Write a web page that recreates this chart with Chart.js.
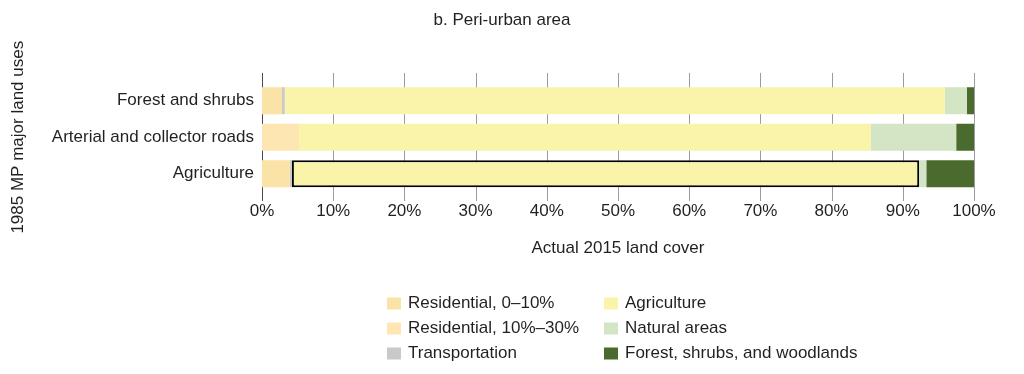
<!DOCTYPE html>
<html>
<head>
<meta charset="utf-8">
<script src="https://cdn.jsdelivr.net/npm/chart.js@4/dist/chart.umd.min.js"></script>
<style>
  html, body { margin: 0; padding: 0; background: #ffffff; }
  #wrap { width: 1024px; height: 374px; position: relative; }
</style>
</head>
<body>
<div id="wrap"><canvas id="c" width="1024" height="374"></canvas></div>
<script>
// ---- data ----
const chartTitle = 'b. Peri-urban area';
const categories = ['Forest and shrubs', 'Arterial and collector roads', 'Agriculture'];
const seriesNames = ['Residential, 0–10%', 'Residential, 10%–30%', 'Transportation', 'Agriculture', 'Natural areas', 'Forest, shrubs, and woodlands'];
const residential0to10 = [2.8, 0, 3.9];
const residential10to30 = [0, 5.2, 0];
const transportation = [0.4, 0, 0.3];
const agriculture = [92.7, 80.3, 88.1];
const naturalAreas = [3.1, 12.0, 1.0];
const forestWoodlands = [1.0, 2.5, 6.7];
const tickLabels = ['0%', '10%', '20%', '30%', '40%', '50%', '60%', '70%', '80%', '90%', '100%'];
const xAxisTitle = 'Actual 2015 land cover';
const yAxisTitle = '1985 MP major land uses';

// ---- styles ----
const colors = ['#fbe3a7', '#fde6b2', '#c9c9c9', '#faf3aa', '#d3e5c5', '#4b6a2e'];
const FONT = "'Liberation Sans', Arial, Helvetica, sans-serif";
const TEXT = '#231f20';
Chart.defaults.font.family = FONT;
Chart.defaults.font.size = 17;
Chart.defaults.color = TEXT;

const seriesData = [residential0to10, residential10to30, transportation, agriculture, naturalAreas, forestWoodlands];
const datasets = seriesData.map((d, i) => ({
  label: seriesNames[i],
  data: d,
  backgroundColor: colors[i],
  borderColor: '#000000',
  borderWidth: i === 3 ? [0, 0, 2] : 0,
  borderSkipped: false,
  barPercentage: 0.74,
  categoryPercentage: 1.0
}));

const gridPlugin = {
  id: 'extGrid',
  beforeDatasetsDraw(chart) {
    const {ctx, chartArea, scales} = chart;
    const xs = scales.x;
    ctx.save();
    ctx.lineWidth = 1;
    xs.ticks.forEach((t, i) => {
      const x = Math.round(xs.getPixelForValue(t.value)) + 0.5;
      ctx.strokeStyle = i === 0 ? '#4a4a4a' : '#9b9b9b';
      ctx.beginPath();
      ctx.moveTo(x, chartArea.top - 9.5);
      ctx.lineTo(x, chartArea.bottom + 9);
      ctx.stroke();
    });
    ctx.restore();
  }
};

const decorPlugin = {
  id: 'decor',
  afterDraw(chart) {
    const {ctx} = chart;
    ctx.save();
    ctx.font = '17px ' + FONT;
    ctx.fillStyle = TEXT;
    ctx.textAlign = 'center';
    ctx.textBaseline = 'alphabetic';
    ctx.fillText(chartTitle, 502, 25);
    // legend, two columns
    const colX = [387, 604];
    const rowY = [303.5, 328.5, 353.5];
    ctx.textAlign = 'left';
    ctx.textBaseline = 'middle';
    chart.data.datasets.forEach((ds, i) => {
      const col = Math.floor(i / 3), row = i % 3;
      ctx.fillStyle = ds.backgroundColor;
      ctx.fillRect(colX[col], rowY[row] - 6, 14, 12);
      ctx.fillStyle = TEXT;
      ctx.fillText(ds.label, colX[col] + 21, rowY[row]);
    });
    ctx.restore();
  }
};

new Chart(document.getElementById('c'), {
  type: 'bar',
  data: { labels: categories, datasets },
  options: {
    indexAxis: 'y',
    responsive: false,
    animation: false,
    devicePixelRatio: 1,
    layout: { padding: { top: 82.4, right: 50, bottom: 112, left: 0 } },
    plugins: {
      legend: { display: false },
      title: { display: false },
      tooltip: { enabled: false }
    },
    scales: {
      x: {
        stacked: true,
        min: 0,
        max: 100,
        grid: { display: false, drawTicks: false },
        border: { display: false },
        ticks: {
          stepSize: 10,
          padding: 9,
          color: TEXT,
          font: { size: 17 },
          callback: (v, i) => tickLabels[i]
        },
        title: { display: true, text: xAxisTitle, color: TEXT, font: { size: 17 }, padding: { top: 0, bottom: 3 } },
        afterFit: (s) => { s.height = 70; }
      },
      y: {
        stacked: true,
        grid: { display: false, drawTicks: false },
        border: { display: false },
        ticks: { padding: 8, color: TEXT, font: { size: 17 } },
        title: { display: true, text: yAxisTitle, color: TEXT, font: { size: 17 }, padding: { top: 8, bottom: 0 } },
        afterFit: (s) => { s.width = 262; }
      }
    }
  },
  plugins: [gridPlugin, decorPlugin]
});
</script>
</body>
</html>
